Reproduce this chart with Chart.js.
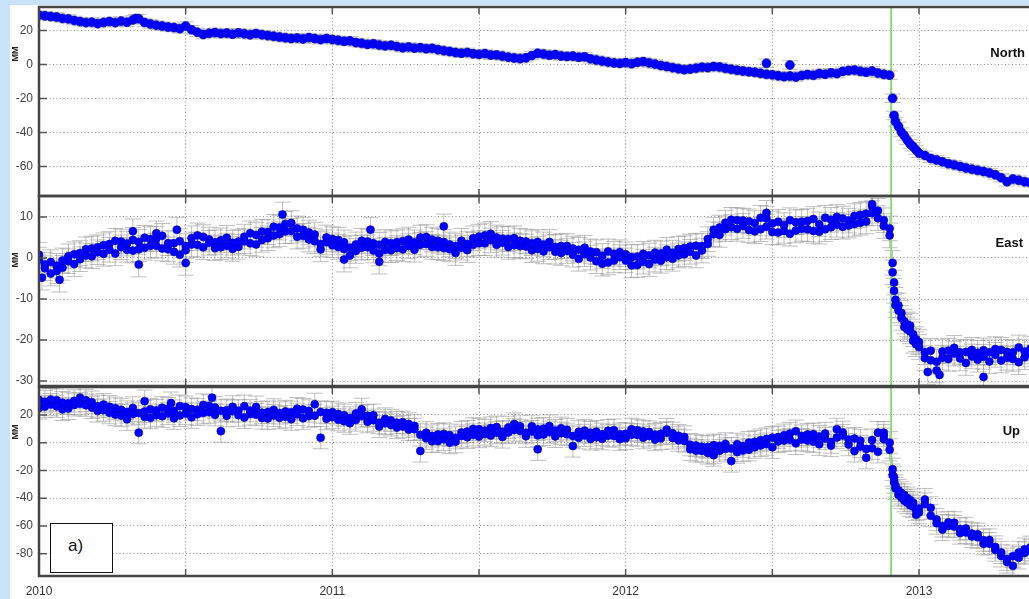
<!DOCTYPE html>
<html>
<head>
<meta charset="utf-8">
<script src="https://cdn.jsdelivr.net/npm/chart.js@4.4.0/dist/chart.umd.min.js"></script>
<style>
  body { margin: 0; }
  #page { position: relative; width: 1029px; height: 599px; overflow: hidden; background: #c9e2f7; font-family: Arial, 'Liberation Sans', sans-serif; }
  #sheet { position: absolute; left: 10px; top: 5px; right: 0; bottom: 0; background: #fff; }
  canvas { position: absolute; left: 0; }
  .comp { position: absolute; font-weight: bold; font-size: 13px; color: #111; }
  .unit { position: absolute; font-weight: bold; font-size: 9px; color: #222; transform: translate(-50%, -50%) rotate(-90deg); }
  #tag { position: absolute; left: 50px; top: 523px; width: 63px; height: 50px; box-sizing: border-box; border: 1px solid #111; background: #fff; font-size: 17px; color: #111; padding: 12px 0 0 17px; }
</style>
</head>
<body>
<div id="page">
  <div id="sheet"></div>
  <canvas id="north" width="1029" height="200" style="top:0"></canvas>
  <canvas id="east" width="1029" height="200" style="top:190px"></canvas>
  <canvas id="up" width="1029" height="219" style="top:380px"></canvas>
  <div class="unit" style="left:14.5px; top:54px">MM</div>
  <div class="unit" style="left:14.5px; top:260px">MM</div>
  <div class="unit" style="left:14.5px; top:432px">MM</div>
  <div class="comp" style="right:4px; top:45px">North</div>
  <div class="comp" style="right:6px; top:235px">East</div>
  <div class="comp" style="right:9px; top:423px">Up</div>
  <div id="tag">a)</div>
</div>
<script>
// sampling epochs (decimal years)
const epochs = [
  2010.00, 2010.02, 2010.04, 2010.06, 2010.08, 2010.10, 2010.12, 2010.14, 2010.16, 2010.18,
  2010.20, 2010.22, 2010.24, 2010.26, 2010.28, 2010.30, 2010.32, 2010.34, 2010.36, 2010.38,
  2010.40, 2010.42, 2010.44, 2010.46, 2010.48, 2010.50, 2010.52, 2010.54, 2010.56, 2010.58,
  2010.60, 2010.62, 2010.64, 2010.66, 2010.68, 2010.70, 2010.72, 2010.74, 2010.76, 2010.78,
  2010.80, 2010.82, 2010.84, 2010.86, 2010.88, 2010.90, 2010.92, 2010.94, 2010.96, 2010.98,
  2011.00, 2011.02, 2011.04, 2011.06, 2011.08, 2011.10, 2011.12, 2011.14, 2011.16, 2011.18,
  2011.20, 2011.22, 2011.24, 2011.26, 2011.28, 2011.30, 2011.32, 2011.34, 2011.36, 2011.38,
  2011.40, 2011.42, 2011.44, 2011.46, 2011.48, 2011.50, 2011.52, 2011.54, 2011.56, 2011.58,
  2011.60, 2011.62, 2011.64, 2011.66, 2011.68, 2011.70, 2011.72, 2011.74, 2011.76, 2011.78,
  2011.80, 2011.82, 2011.84, 2011.86, 2011.88, 2011.90, 2011.92, 2011.94, 2011.96, 2011.98,
  2012.00, 2012.02, 2012.04, 2012.06, 2012.08, 2012.10, 2012.12, 2012.14, 2012.16, 2012.18,
  2012.20, 2012.22, 2012.24, 2012.26, 2012.28, 2012.30, 2012.32, 2012.34, 2012.36, 2012.38,
  2012.40, 2012.42, 2012.44, 2012.46, 2012.48, 2012.50, 2012.52, 2012.54, 2012.56, 2012.58,
  2012.60, 2012.62, 2012.64, 2012.66, 2012.68, 2012.70, 2012.72, 2012.74, 2012.76, 2012.78,
  2012.80, 2012.82, 2012.84, 2012.86, 2012.88, 2012.90,
  2012.91, 2012.915, 2012.92, 2012.93, 2012.94, 2012.95, 2012.96, 2012.97, 2012.98, 2012.99, 2013.00,
  2013.02, 2013.04, 2013.06, 2013.08, 2013.10, 2013.12, 2013.14, 2013.16, 2013.18, 2013.20,
  2013.22, 2013.24, 2013.26, 2013.28, 2013.30, 2013.32, 2013.34, 2013.36, 2013.38
];

// displacements in mm, one value per epoch
const northMM = [
  29.0, 28.6, 28.2, 27.9, 27.1, 26.8, 25.9, 25.2, 24.6, 24.9,
  24.0, 24.7, 25.3, 24.6, 25.5, 24.8, 26.2, 26.9, 24.7, 23.8,
  23.1, 22.6, 22.0, 21.7, 21.0, 22.6, 20.4, 18.9, 17.6, 18.3,
  18.8, 18.1, 18.5, 17.8, 18.6, 18.0, 17.4, 18.2, 17.5, 17.0,
  16.6, 16.1, 15.7, 15.2, 15.6, 15.0, 15.8, 15.2, 14.6, 15.3,
  14.7, 14.2, 13.6, 13.9, 12.9, 12.5, 11.8, 12.2, 11.4, 10.9,
  11.3, 10.5, 9.8, 10.3, 9.6, 9.9, 9.2, 9.5, 8.7, 8.1,
  7.6, 7.0, 6.6, 7.1, 6.3, 5.9, 6.4, 5.5, 5.6, 4.9,
  4.3, 3.8, 3.4, 3.9, 5.2, 6.6, 6.1, 5.4, 5.8, 5.0,
  4.7, 4.9, 4.2, 4.5, 3.3, 2.6, 2.0, 1.4, 0.9, 0.6,
  1.1, 0.4, 1.3, 1.7, 0.9, 0.2, -0.6, -1.2, -1.9, -2.5,
  -3.1, -2.7, -2.2, -1.6, -1.9, -1.2, -1.5, -2.3, -2.8, -3.4,
  -3.9, -4.3, -4.6, -5.2, -5.8, -6.1, -6.7, -7.2, -6.8, -7.4,
  -6.5, -5.9, -6.4, -5.3, -5.8, -4.9, -5.4, -4.1, -3.6, -3.3,
  -4.0, -4.6, -3.9, -5.1, -5.8, -6.3,
  -19.9, -30.0, -33.6, -36.5, -39.8, -42.0, -44.5, -46.8, -48.4, -50.3, -52.2,
  -53.5, -55.3, -56.2, -57.3, -58.4, -59.1, -60.0, -60.9, -61.6, -62.3,
  -63.0, -63.8, -64.9, -66.6, -69.0, -67.4, -68.1, -69.0, -69.6
];
const eastMM = [
  -0.4, -2.5, -1.0, -3.2, -0.6, 0.4, -1.5, 1.2, 0.6, 2.3,
  1.4, 3.1, 2.0, 4.2, 2.6, 3.5, 1.8, 3.9, 2.5, 4.6,
  3.0, 5.4, 3.6, 1.5, 0.8, 2.9, 4.8, 3.2, 5.1, 3.7,
  2.4, 4.3, 3.0, 2.2, 4.0, 5.2, 3.6, 5.6, 4.4, 6.3,
  5.5, 7.4, 8.3, 6.6, 7.2, 5.4, 6.2, 4.1, 3.4, 5.0,
  3.1, 4.4, 2.2, 0.6, 3.3, 2.5, 4.0, 1.8, 3.2, 2.0,
  3.6, 2.4, 4.1, 2.9, 3.8, 5.0, 3.4, 4.5, 2.6, 3.9,
  2.1, 1.2, 2.5, 3.4, 4.8, 3.6, 5.5, 4.3, 5.0, 3.7,
  4.6, 3.1, 4.2, 2.8, 3.6, 2.2, 3.3, 2.6, 1.5, 2.9,
  1.7, 0.8, 2.0, 0.9, 1.6, -0.8, 0.5, -1.1, 1.0, 0.2,
  -0.6, -1.8, 0.3, -0.9, 0.6, -0.4, 1.1, 0.2, 1.3, 0.6,
  2.4, 1.5, 3.0, 1.8, 3.4, 5.8, 7.4, 8.6, 7.5, 9.2,
  7.8, 8.9, 6.5, 9.8, 7.6, 8.4, 6.2, 8.0, 5.9, 8.7,
  7.1, 9.0, 6.6, 8.2, 7.0, 9.3, 8.1, 9.6, 7.9, 10.2,
  8.6, 10.8, 12.6, 9.7, 7.8, 5.5,
  -1.2, -6.0, -10.2, -12.8, -14.6, -15.5, -16.2, -17.9, -18.6, -19.8, -21.7,
  -23.0, -24.9, -27.4, -24.3, -22.6, -23.3, -24.5, -22.9, -24.0, -23.1,
  -22.5, -25.2, -23.6, -22.4, -24.3, -23.0, -25.4, -22.8, -23.5
];
const upMM = [
  25.0, 29.5, 31.0, 26.2, 24.0, 28.3, 30.1, 32.4, 27.0, 29.2,
  26.3, 23.5, 21.6, 24.8, 19.5, 16.8, 20.6, 7.2, 22.4, 18.0,
  23.1, 19.1, 24.5, 17.6, 26.3, 21.0, 24.2, 20.4, 27.1, 22.0,
  25.3, 8.3, 23.4, 22.7, 19.8, 26.3, 23.0, 20.2, 21.6, 17.4,
  19.6, 18.0, 22.5, 16.9, 20.4, 23.8, 19.2, 27.6, 3.6, 21.6,
  18.3, 20.6, 15.5, 17.8, 21.0, 24.0, 19.4, 16.2, 14.4, 17.1,
  12.8, 14.4, 11.6, 13.5, 9.6, -6.0, 3.2, 4.8, 1.1, 6.3,
  0.0, 3.5, 4.8, 8.0, 5.6, 9.6, 6.2, 10.5, 7.2, 4.1,
  11.0, 13.4, 8.5, 7.2, 11.8, 9.6, 5.9, 12.0, 8.7, 10.4,
  6.0, -2.4, 7.8, 5.2, 7.2, 3.9, 6.0, 8.6, 4.8, 2.5,
  6.4, 9.6, 5.5, 8.1, 4.8, 2.2, 6.5, 7.2, 3.4, 5.0,
  1.2, -4.8, -2.0, -6.0, -3.1, -7.2, -2.4, -4.5, -13.2, -1.2,
  -5.6, 0.0, -3.3, 1.8, -1.0, 3.6, 0.9, 5.4, 2.1, 8.3,
  4.8, 1.5, 6.0, -1.2, 3.0, 0.4, 9.6, 5.1, 2.3, -6.0,
  -2.8, -10.8, -4.0, 7.2, 2.5, 0.0,
  -19.2, -25.0, -31.2, -34.5, -39.6, -37.8, -43.2, -41.5, -46.0, -48.2, -50.4,
  -41.0, -47.0, -58.0, -60.0, -57.5, -60.5, -62.3, -64.7, -65.5, -68.2,
  -70.3, -72.8, -75.2, -79.1, -84.0, -88.8, -79.1, -76.8, -78.0
];

// second solution at the same epochs (spread of the noisy components)
const eastMM2 = [
  0.8, -1.6, -3.8, -1.9, -2.4, -0.8, 0.9, -0.3, 2.1, 0.4,
  2.6, 1.0, 3.4, 1.1, 4.0, 2.0, 4.4, 2.1, 4.9, 3.0,
  4.7, 2.3, 2.1, 3.6, 4.1, 1.9, 3.3, 5.5, 2.6, 4.5,
  3.8, 2.6, 4.9, 3.7, 2.7, 4.1, 6.0, 3.3, 6.4, 4.8,
  7.6, 5.8, 6.5, 8.5, 5.2, 6.9, 4.5, 5.7, 2.1, 3.8,
  4.6, 2.7, 3.8, 2.5, 1.7, 4.2, 2.6, 3.6, 1.1, 3.9,
  1.9, 3.8, 2.1, 4.5, 2.0, 3.2, 5.1, 2.7, 4.2, 2.4,
  3.3, 2.9, 4.2, 1.9, 3.2, 5.2, 3.6, 5.9, 3.2, 4.7,
  2.7, 4.8, 2.9, 4.0, 1.9, 3.9, 1.6, 3.9, 2.7, 1.2,
  2.9, 2.3, -0.2, 2.5, 0.1, 1.4, -1.4, 1.6, -0.6, 1.4,
  0.9, 0.2, -1.7, 1.0, -1.5, 1.3, -0.7, 2.0, -0.2, 2.2,
  0.9, 2.8, 0.6, 2.9, 4.6, 6.9, 5.6, 7.0, 9.3, 7.1,
  9.1, 6.8, 8.5, 7.0, 9.6, 6.3, 8.8, 6.6, 9.2, 6.7,
  8.8, 7.0, 9.5, 6.4, 9.8, 7.5, 10.0, 7.6, 9.1, 8.3,
  10.5, 8.9, 10.9, 11.5, 9.2, 7.2,
  -3.5, -8.0, -11.5, -11.6, -13.4, -16.8, -17.4, -16.5, -20.2, -21.0, -20.5,
  -24.4, -22.6, -25.3, -22.8, -24.6, -21.9, -23.0, -25.6, -22.4, -24.8,
  -24.1, -23.0, -22.2, -25.0, -22.9, -24.6, -21.8, -24.2, -22.1
];
const upMM2 = [
  30.8, 26.0, 27.4, 30.6, 28.8, 24.6, 27.2, 28.0, 30.5, 25.4,
  22.9, 27.4, 25.9, 20.2, 23.7, 22.1, 25.0, 21.3, 18.6, 23.9,
  19.8, 25.1, 21.0, 22.8, 19.6, 25.6, 18.3, 23.7, 21.5, 26.4,
  20.1, 22.9, 19.4, 25.8, 23.0, 18.2, 20.7, 25.6, 17.8, 22.0,
  23.6, 21.4, 18.7, 21.9, 24.5, 17.6, 22.8, 19.4, 22.1, 17.3,
  21.9, 16.5, 19.8, 14.0, 16.3, 19.2, 15.1, 19.8, 11.6, 13.9,
  16.0, 10.9, 14.7, 9.4, 12.1, 5.6, 7.1, 1.0, 5.8, 2.4,
  5.4, 0.7, 7.3, 3.9, 9.9, 4.4, 8.7, 5.1, 11.2, 7.9,
  7.4, 9.2, 11.9, 4.6, 8.0, 5.3, 10.1, 7.6, 4.5, 6.8,
  9.3, 4.7, 3.5, 8.6, 2.7, 7.9, 2.8, 5.0, 9.0, 6.1,
  3.1, 5.7, 8.9, 3.6, 7.6, 5.8, 3.1, 9.4, 6.7, 1.8,
  4.1, -1.5, -5.9, -2.9, -7.4, -1.9, -5.8, -0.9, -4.3, -6.8,
  -2.5, -5.1, 0.6, -2.0, 2.6, -3.4, 4.0, 1.6, 6.6, -0.5,
  2.2, 5.9, 0.8, 4.4, 6.6, -2.1, 3.7, 7.4, -1.4, 2.9,
  1.3, -4.5, 1.9, -6.6, 5.1, -5.2,
  -23.4, -28.4, -33.0, -37.6, -36.2, -41.8, -40.0, -45.1, -43.4, -51.9, -47.5,
  -44.2, -52.6, -55.4, -62.6, -60.0, -57.8, -65.1, -61.8, -67.6, -66.0,
  -72.9, -70.2, -77.4, -81.6, -86.0, -81.8, -83.0, -79.6, -75.4
];

// isolated points away from the main band
const northOddT = [2010.33, 2012.48, 2012.56];
const northOddMM = [27.0, 0.7, -0.3];
const eastOddT = [2010.01, 2010.07, 2010.32, 2010.34, 2010.40, 2010.47, 2010.50, 2010.83, 2011.04, 2011.13, 2011.16, 2011.38, 2012.48, 2012.84, 2013.03, 2013.07, 2013.22];
const eastOddMM = [-4.8, -5.3, 6.5, -1.6, 6.0, 6.9, -1.2, 10.6, -0.4, 6.9, -0.9, 7.7, 11.0, 13.1, -27.8, -28.5, -29.0];
const upOddT = [2010.36, 2010.45, 2010.59, 2011.70, 2012.30, 2012.88];
const upOddMM = [29.9, 28.5, 32.4, -4.8, -9.0, 7.2];

// formal errors (mm) and earthquake epoch
const northSigma = 2.5;
const eastSigma = 3;
const upSigma = 8;
const quakeEpoch = 2012.905;

// axes
const xMin = 2010, xMax = 2013.375;
const xTicks = [2010, 2010.5, 2011, 2011.5, 2012, 2012.5, 2013];
const northTicks = [20, 0, -20, -40, -60];
const eastTicks = [10, 0, -10, -20, -30];
const upTicks = [20, 0, -20, -40, -60, -80];

const decor = {
  id: 'decor',
  beforeDatasetsDraw(chart, args, opts) {
    const { ctx, chartArea: a, scales: { x, y } } = chart;
    ctx.save();
    ctx.beginPath();
    ctx.rect(a.left, a.top, a.right - a.left, a.bottom - a.top);
    ctx.clip();
    // error bars
    ctx.strokeStyle = 'rgba(150,150,150,0.6)';
    ctx.lineWidth = 1;
    chart.data.datasets.forEach(ds => ds.data.forEach(p => {
      const px = x.getPixelForValue(p.x);
      const lo = y.getPixelForValue(p.y - opts.sigma);
      const hi = y.getPixelForValue(p.y + opts.sigma);
      ctx.beginPath();
      ctx.moveTo(px, lo); ctx.lineTo(px, hi);
      ctx.moveTo(px - 8, lo); ctx.lineTo(px + 8, lo);
      ctx.moveTo(px - 8, hi); ctx.lineTo(px + 8, hi);
      ctx.stroke();
    }));
    // earthquake marker
    const ex = x.getPixelForValue(quakeEpoch);
    ctx.strokeStyle = '#8ad97c';
    ctx.lineWidth = 2;
    ctx.beginPath();
    ctx.moveTo(ex, a.top);
    ctx.lineTo(ex, a.bottom);
    ctx.stroke();
    ctx.restore();
  },
  afterDraw(chart) {
    const { ctx, chartArea: a, scales: { x, y } } = chart;
    ctx.save();
    // inward tick marks
    ctx.strokeStyle = '#555';
    ctx.lineWidth = 1.5;
    ctx.beginPath();
    x.ticks.forEach(t => {
      const px = x.getPixelForValue(t.value);
      ctx.moveTo(px, a.top); ctx.lineTo(px, a.top + 7);
      ctx.moveTo(px, a.bottom); ctx.lineTo(px, a.bottom - 7);
    });
    y.ticks.forEach(t => {
      const py = y.getPixelForValue(t.value);
      ctx.moveTo(a.left, py); ctx.lineTo(a.left + 8, py);
    });
    ctx.stroke();
    // frame (right side is off the page)
    ctx.strokeStyle = '#444';
    ctx.lineWidth = 2.5;
    ctx.beginPath();
    ctx.moveTo(a.right, a.top);
    ctx.lineTo(a.left, a.top);
    ctx.lineTo(a.left, a.bottom);
    ctx.lineTo(a.right, a.bottom);
    ctx.stroke();
    ctx.restore();
  }
};

function toPoints(ts, vs) {
  return ts.map((t, i) => ({ x: t, y: vs[i] }));
}

function makeChart(id, series, oddT, oddV, sigma, radius, yMin, yMax, yTicks, showX, padding) {
  const dot = { pointRadius: radius, pointBackgroundColor: '#0000ff', pointBorderColor: '#0000b0', pointBorderWidth: 0.6, showLine: false };
  const datasets = series.map(vs => Object.assign({ data: toPoints(epochs, vs) }, dot));
  datasets.push(Object.assign({ data: toPoints(oddT, oddV) }, dot));
  return new Chart(document.getElementById(id), {
    type: 'scatter',
    data: { datasets },
    options: {
      responsive: false,
      animation: false,
      events: [],
      layout: { autoPadding: false, padding: padding },
      plugins: { legend: { display: false }, tooltip: { enabled: false }, decor: { sigma: sigma } },
      scales: {
        x: {
          type: 'linear', min: xMin, max: xMax,
          afterBuildTicks: s => { s.ticks = xTicks.map(v => ({ value: v })); },
          afterFit: s => { s.height = showX ? 23 : 0; s.paddingLeft = 0; s.paddingRight = 0; },
          grid: { color: '#8f8f8f', lineWidth: 1, drawTicks: false },
          border: { display: false, dash: [1, 2.5] },
          ticks: {
            display: showX, padding: 8, color: '#333', maxRotation: 0, autoSkip: false,
            font: { family: 'Arial, "Liberation Sans", sans-serif', size: 12 },
            callback: v => Number.isInteger(v) ? String(v) : ''
          }
        },
        y: {
          min: yMin, max: yMax,
          afterBuildTicks: s => { s.ticks = yTicks.map(v => ({ value: v })); },
          afterFit: s => { s.width = 39; s.paddingTop = 0; s.paddingBottom = 0; },
          grid: { color: '#8f8f8f', lineWidth: 1, drawTicks: false },
          border: { display: false, dash: [1, 2.5] },
          ticks: { padding: 6, color: '#444', font: { family: 'Arial, "Liberation Sans", sans-serif', size: 12 } }
        }
      }
    },
    plugins: [decor]
  });
}

makeChart('north', [northMM], northOddT, northOddMM, northSigma, 4.5, -77.4, 33.8, northTicks, false, { top: 7, bottom: 4, left: 0, right: 0 });
makeChart('east', [eastMM, eastMM2], eastOddT, eastOddMM, eastSigma, 4, -31.2, 15.1, eastTicks, false, { top: 6, bottom: 4, left: 0, right: 0 });
makeChart('up', [upMM, upMM2], upOddT, upOddMM, upSigma, 4, -96.1, 40.1, upTicks, true, { top: 7, bottom: 0, left: 0, right: 0 });
</script>
</body>
</html>
